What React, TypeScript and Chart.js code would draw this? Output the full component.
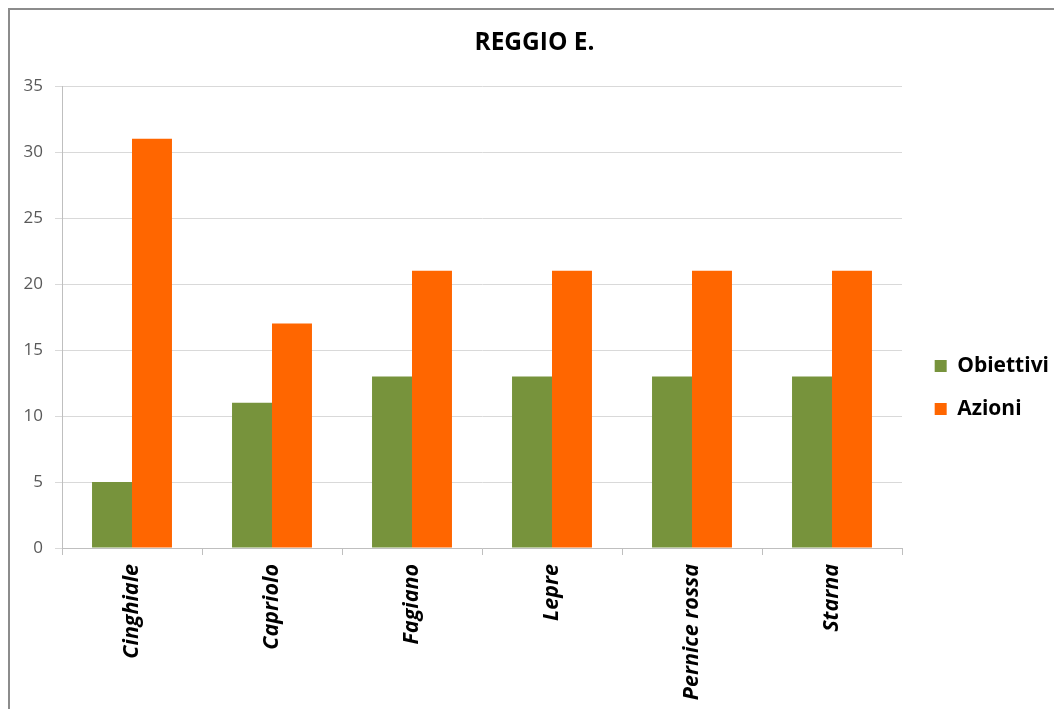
import React, { useEffect, useRef } from "react";
import { Chart, registerables } from "chart.js";

Chart.register(...registerables);

const categories = ["Cinghiale", "Capriolo", "Fagiano", "Lepre", "Pernice rossa", "Starna"];
const obiettivi = [5, 11, 13, 13, 13, 13];
const azioni = [31, 17, 21, 21, 21, 21];
const chartTitle = "REGGIO E.";

const FONT = "'Open Sans', Lato, sans-serif";
const CANVAS_W = 1052;
const CANVAS_H = 755;
const PLOT_RIGHT = 892;
const PAD_RIGHT = 3;

export default function App() {
  const ref = useRef<HTMLCanvasElement | null>(null);

  useEffect(() => {
    if (!ref.current) return;
    const chart = new Chart(ref.current, {
      type: "bar",
      data: {
        labels: categories,
        datasets: [
          {
            label: "Obiettivi",
            data: obiettivi,
            backgroundColor: "#77933C",
            borderWidth: 0,
            categoryPercentage: 0.571,
            barPercentage: 1.0,
          },
          {
            label: "Azioni",
            data: azioni,
            backgroundColor: "#FF6600",
            borderWidth: 0,
            categoryPercentage: 0.571,
            barPercentage: 1.0,
          },
        ],
      },
      options: {
        animation: false,
        responsive: false,
        maintainAspectRatio: false,
        layout: { padding: { top: 0, left: 0, right: PAD_RIGHT, bottom: 0 } },
        plugins: {
          title: {
            display: true,
            text: chartTitle,
            color: "#000000",
            font: { family: FONT, size: 24.5, weight: "bold" },
            padding: { top: 18.3, bottom: 28.3 },
          },
          legend: {
            position: "right",
            labels: {
              boxWidth: 12,
              boxHeight: 12,
              padding: 22,
              color: "#000000",
              font: { family: FONT, size: 21, weight: "bold" },
            },
          },
          tooltip: { enabled: false },
        },
        scales: {
          x: {
            grid: {
              display: true,
              drawOnChartArea: false,
              drawTicks: true,
              tickLength: 7,
              color: "#bfbfbf",
              offset: true,
            },
            border: { color: "#bfbfbf", width: 1 },
            ticks: {
              autoSkip: false,
              maxRotation: 90,
              minRotation: 90,
              padding: 9,
              color: "#000000",
              font: { family: FONT, size: 21.5, weight: "bold", style: "italic" },
            },
            afterFit: (s: any) => {
              s.height = 217;
            },
          },
          y: {
            min: 0,
            max: 35,
            ticks: {
              stepSize: 5,
              padding: 12,
              color: "#595959",
              font: { family: FONT, size: 17 },
            },
            grid: { color: "#d9d9d9", tickLength: 7, drawTicks: true },
            border: { color: "#bfbfbf", width: 1 },
            afterFit: (s: any) => {
              s.width = 52;
            },
          },
          y2: {
            type: "linear",
            position: "right",
            display: true,
            grid: { display: false, drawOnChartArea: false },
            border: { display: false },
            ticks: { display: false },
            afterFit: (s: any) => {
              const lw = s.chart.legend ? s.chart.legend.width : 0;
              s.width = Math.max(0, CANVAS_W - PAD_RIGHT - PLOT_RIGHT - lw);
            },
          },
        },
      },
    });
    return () => chart.destroy();
  }, []);

  return (
    <div
      style={{
        position: "fixed",
        left: 8,
        top: 8,
        width: CANVAS_W + 2,
        height: CANVAS_H + 2,
        boxSizing: "border-box",
        borderTop: "2px solid #8c8c8c",
        borderLeft: "2px solid #8c8c8c",
        background: "#ffffff",
      }}
    >
      <canvas ref={ref} width={CANVAS_W} height={CANVAS_H} style={{ display: "block" }} />
    </div>
  );
}
